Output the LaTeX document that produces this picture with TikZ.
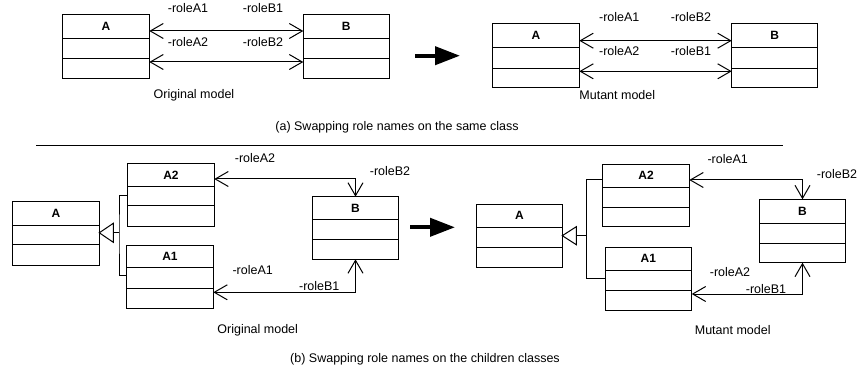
\documentclass[tikz,border=0pt]{standalone}
\usepackage{fontspec}
\setmainfont{Liberation Sans}
\usetikzlibrary{arrows.meta}
\tikzset{
  cls/.style={draw, line width=1pt, inner sep=0pt, outer sep=0pt},
  clsline/.style={line width=1pt},
  clslabel/.style={font=\fontsize{12}{14}\selectfont\bfseries, inner sep=0pt},
  lbl/.style={font=\fontsize{12.5}{14}\selectfont, inner sep=0pt},
  assoc/.style={line width=1pt, {Straight Barb[length=13pt,width=15pt,line width=1pt]}-{Straight Barb[length=13pt,width=15pt,line width=1pt]}},
  gen/.style={line width=1pt},
  gentri/.style={line width=1pt, fill=white, line join=miter},
  bigarrow/.style={line width=4pt, -{Triangle[length=25pt,width=18pt]}},
}
\newcommand{\klass}[8]{%
  \node[cls, minimum width={#4pt-#2pt}, minimum height={#5pt-#3pt}] (#1) at ({(#2+#4)/2},{(#3+#5)/2}) {};
  \draw[clsline] (#1.west |- 0,#6) -- (#1.east |- 0,#6);
  \draw[clsline] (#1.west |- 0,#7) -- (#1.east |- 0,#7);
  \node[clslabel] (#1t) at ({(#2+#4)/2},{(#3+#6)/2}) {#8};
}
\begin{document}
\begin{tikzpicture}[x=1pt,y=-1pt]
\useasboundingbox (0,0) rectangle (857,377);
% ---------- (a) original ----------
\klass{aoA}{62.7}{15}{149.3}{78.3}{38.3}{59}{A}
\klass{aoB}{303.3}{15}{389}{78.3}{38.3}{59}{B}
\draw[assoc] (aoA.east |- 0,31) -- (aoB.west |- 0,31);
\draw[assoc] (aoA.east |- 0,62) -- (aoB.west |- 0,62);
\node[lbl] (aoA1) at (188,8.5) {-roleA1};
\node[lbl] (aoB1) at (263,8.5) {-roleB1};
\node[lbl] (aoA2) at (188,41.7) {-roleA2};
\node[lbl] (aoB2) at (263,41.7) {-roleB2};
\node[lbl] (aoCap) at (194,95.7) {Original model};
% big arrow a
\coordinate (baS) at (415,55.7);
\coordinate (baE) at (460,55.7);
\draw[bigarrow] (baS) -- (baE);
% ---------- (a) mutant ----------
\klass{amA}{492.7}{24}{579.3}{87.3}{47.7}{68.3}{A}
\klass{amB}{731.7}{24}{817.7}{87.3}{47.7}{68.3}{B}
\draw[assoc] (amA.east |- 0,40.7) -- (amB.west |- 0,40.7);
\draw[assoc] (amA.east |- 0,71.3) -- (amB.west |- 0,71.3);
\node[lbl] (amA1) at (619.3,17.3) {-roleA1};
\node[lbl] (amB2) at (691,17.3) {-roleB2};
\node[lbl] (amA2) at (619.3,50.7) {-roleA2};
\node[lbl] (amB1) at (691,50.7) {-roleB1};
\node[lbl] (amCap) at (617.3,95) {Mutant model};
\node[lbl] (capA) at (397,127) {(a) Swapping role names on the same class};
% separator
\coordinate (sepL) at (36,146);
\coordinate (sepR) at (782.7,146);
\draw[line width=1pt] (sepL) -- (sepR);
% ---------- (b) original ----------
\klass{boA}{12.7}{201.7}{99.3}{265}{225}{244.7}{A}
\klass{boA2}{127.7}{164}{214.3}{226}{186.7}{205.7}{A2}
\klass{boA1}{126.7}{245.7}{213.3}{308.3}{267.7}{288.3}{A1}
\klass{boB}{312.7}{196.7}{398.3}{259.3}{219.3}{239}{B}
\coordinate (boG) at (119,232.8);
\coordinate (boT) at (boA.east |- boG);
\draw[gen] (boA2.west |- 0,195) -| (boG) |- (boA1.west |- 0,275.7);
\draw[gen] (boG) -- ([xshift=14pt]boT);
\draw[gentri] (boT) -- ([xshift=14pt,yshift=9.5pt]boT) -- ([xshift=14pt,yshift=-9.5pt]boT) -- cycle;
\draw[assoc] (boA2.east |- 0,179) -| (boB.north);
\draw[assoc] (boA1.east |- 0,292.3) -| (boB.south);
\node[lbl] (boRA2) at (255,158.3) {-roleA2};
\node[lbl] (boRB2) at (390,170.7) {-roleB2};
\node[lbl] (boRA1) at (252.7,270) {-roleA1};
\node[lbl] (boRB1) at (319.3,286) {-roleB1};
\node[lbl] (boCap) at (257.7,330) {Original model};
% big arrow b
\coordinate (bbS) at (410,227.3);
\coordinate (bbE) at (455,227.3);
\draw[bigarrow] (bbS) -- (bbE);
% ---------- (b) mutant ----------
\klass{bmA}{476.7}{204.3}{562.3}{267.7}{227.3}{247.7}{A}
\klass{bmA2}{602.7}{164.3}{689.3}{226.7}{187.3}{207}{A2}
\klass{bmA1}{605}{247.3}{691.7}{310.7}{270}{290.7}{A1}
\klass{bmB}{759.3}{199.3}{845.7}{262.7}{223.3}{243.3}{B}
\coordinate (bmG) at (586.7,235.7);
\coordinate (bmT) at (bmA.east |- bmG);
\draw[gen] (bmA2.west |- 0,180) -| (bmG) |- (bmA1.west |- 0,278.7);
\draw[gen] (bmG) -- ([xshift=14pt]bmT);
\draw[gentri] (bmT) -- ([xshift=14pt,yshift=9pt]bmT) -- ([xshift=14pt,yshift=-9pt]bmT) -- cycle;
\draw[assoc] (bmA2.east |- 0,180) -| (bmB.north);
\draw[assoc] (bmA1.east |- 0,294) -| (bmB.south);
\node[lbl] (bmRA1) at (727.7,159) {-roleA1};
\node[lbl, anchor=west] (bmRB2) at (816.7,174.3) {-roleB2};
\node[lbl] (bmRA2) at (730,271.7) {-roleA2};
\node[lbl] (bmRB1) at (766,289) {-roleB1};
\node[lbl] (bmCap) at (732.7,330) {Mutant model};
\node[lbl] (capB) at (425,359.3) {(b) Swapping role names on the children classes};
\end{tikzpicture}
\end{document}
